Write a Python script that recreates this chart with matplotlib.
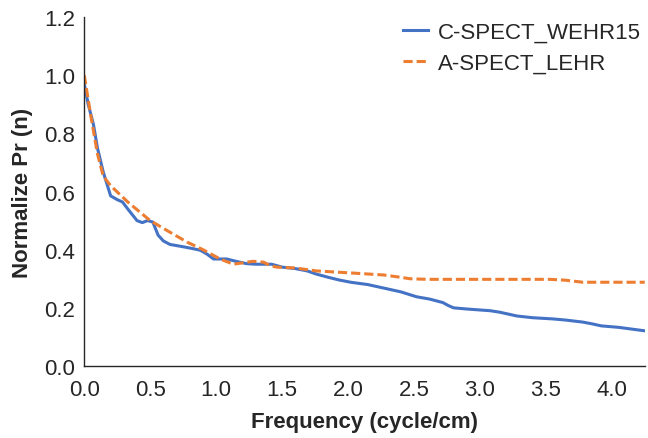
import matplotlib
matplotlib.use('Agg')
import matplotlib.pyplot as plt

# frequency (cycle/cm) and normalized Pr values
freq_c = [0.0, 0.03, 0.07, 0.1, 0.144, 0.2, 0.25, 0.29, 0.33, 0.4, 0.44, 0.48, 0.52,
          0.56, 0.6, 0.65, 0.75, 0.83, 0.88, 0.93, 0.98, 1.08, 1.15, 1.23, 1.3,
          1.36, 1.42, 1.5, 1.6, 1.69, 1.76, 1.85, 1.93, 2.02, 2.15, 2.27, 2.4,
          2.52, 2.62, 2.72, 2.76, 2.8, 2.9, 3.08, 3.15, 3.28, 3.4, 3.55, 3.65,
          3.78, 3.85, 3.92, 4.05, 4.15, 4.25]
pr_c = [0.97, 0.9, 0.83, 0.75, 0.667, 0.585, 0.572, 0.564, 0.54, 0.5, 0.493, 0.5, 0.495,
        0.45, 0.43, 0.418, 0.41, 0.403, 0.398, 0.385, 0.368, 0.368, 0.36, 0.352, 0.35,
        0.35, 0.35, 0.34, 0.335, 0.327, 0.316, 0.305, 0.296, 0.288, 0.28, 0.268, 0.255,
        0.238, 0.23, 0.218, 0.208, 0.2, 0.196, 0.19, 0.185, 0.172, 0.166, 0.162, 0.158,
        0.151, 0.145, 0.138, 0.133, 0.127, 0.121]

freq_a = [0.0, 0.05, 0.1, 0.144, 0.2, 0.33, 0.42, 0.5, 0.65, 0.78, 0.9, 1.03, 1.13,
          1.28, 1.36, 1.41, 1.46, 1.6, 1.76, 2.02, 2.27, 2.4, 2.47, 2.6, 3.0,
          3.53, 3.65, 3.78, 4.0, 4.25]
pr_a = [1.0, 0.86, 0.73, 0.653, 0.62, 0.564, 0.53, 0.5, 0.46, 0.426, 0.40, 0.368, 0.35,
        0.36, 0.357, 0.345, 0.34, 0.337, 0.327, 0.32, 0.313, 0.305, 0.30, 0.298, 0.298,
        0.298, 0.295, 0.288, 0.288, 0.288]

x_ticks = [0.0, 0.5, 1.0, 1.5, 2.0, 2.5, 3.0, 3.5, 4.0]
y_ticks = [0.0, 0.2, 0.4, 0.6, 0.8, 1.0, 1.2]

plt.rcParams['font.family'] = ['Liberation Sans', 'DejaVu Sans']
txt = '#262626'

fig = plt.figure(figsize=(6.48, 4.39), dpi=100)
ax = fig.add_axes([0.13, 0.164, 0.865, 0.795])

ax.plot(freq_c, pr_c, color='#4472C4', lw=2.2, label='C-SPECT_WEHR15')
ax.plot(freq_a, pr_a, color='#ED7D31', lw=2.2, ls=(0, (3, 1.3)), label='A-SPECT_LEHR')

ax.set_xlim(0, 4.25)
ax.set_ylim(0, 1.2)
ax.set_xticks(x_ticks)
ax.set_xticklabels(['%.1f' % v for v in x_ticks])
ax.set_yticks(y_ticks)
ax.set_yticklabels(['%.1f' % v for v in y_ticks])
ax.tick_params(length=0, labelsize=16, colors=txt)
ax.tick_params(axis='x', pad=9)
ax.tick_params(axis='y', pad=6.5)

for s in ['top', 'right']:
    ax.spines[s].set_visible(False)
for s in ['left', 'bottom']:
    ax.spines[s].set_color(txt)
    ax.spines[s].set_linewidth(1.0)

ax.set_xlabel('Frequency (cycle/cm)', fontsize=16, fontweight='bold', color=txt, labelpad=8)
ax.set_ylabel('Normalize Pr (n)', fontsize=16, fontweight='bold', color=txt, labelpad=8)

leg = ax.legend(loc='upper right', frameon=False, fontsize=16, handlelength=1.13,
                handletextpad=0.45, labelspacing=0.45, borderpad=0, borderaxespad=0,
                bbox_to_anchor=(641 / 648, 1 - 23 / 439), bbox_transform=fig.transFigure)
for t in leg.get_texts():
    t.set_color(txt)

fig.savefig('out.png', dpi=100)
